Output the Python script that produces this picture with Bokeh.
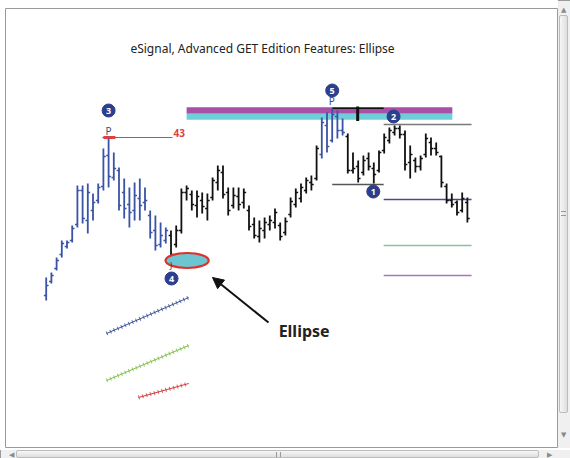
from bokeh.plotting import figure
from bokeh.models import Range1d, Arrow, NormalHead, ColumnDataSource, Div
from bokeh.layouts import row, column
from bokeh.core.properties import value
from bokeh.embed import file_html
from bokeh.resources import INLINE

# ---- price bars (bar index, high, low, open, close) ----
high = [18.3, 18.8, 20.3, 22.0, 22.0, 23.5, 27.5, 27.5, 27.7, 26.7, 27.7, 31.2, 32.2, 30.8,
        29.3, 28.2, 27.3, 27.8, 28.2, 27.3, 25.0, 24.5, 23.8, 23.3, 23.0, 23.5, 27.2, 27.5,
        27.0, 27.0, 26.8, 26.7, 28.3, 29.5, 29.5, 27.3, 27.3, 27.3, 27.2, 25.5, 24.3, 24.0,
        24.3, 24.5, 25.2, 23.8, 24.3, 26.3, 27.2, 27.7, 28.3, 28.5, 31.5, 34.3, 34.8, 35.2,
        35.0, 34.2, 32.7, 30.8, 30.0, 30.5, 30.8, 29.8, 31.0, 32.7, 33.3, 33.5, 33.5, 33.0,
        31.5, 30.3, 30.5, 32.7, 32.3, 31.8, 30.5, 27.7, 26.7, 26.0, 26.8, 26.3]
low = [16.0, 17.7, 19.0, 20.3, 21.2, 21.8, 23.3, 23.7, 22.7, 24.0, 25.7, 27.0, 27.3, 28.0,
       25.0, 24.2, 23.3, 24.0, 24.0, 25.0, 22.2, 21.0, 21.3, 21.7, 20.0, 21.3, 22.7, 26.0,
       25.0, 24.3, 24.7, 24.0, 26.0, 27.0, 26.2, 24.5, 25.2, 25.0, 25.2, 23.0, 22.2, 21.8,
       22.2, 23.0, 23.2, 22.0, 22.5, 24.3, 25.3, 25.8, 26.7, 27.0, 28.0, 30.2, 30.8, 31.8,
       32.2, 32.5, 28.7, 28.7, 27.8, 28.5, 29.0, 27.7, 28.8, 30.7, 31.7, 32.5, 32.2, 29.0,
       28.2, 28.8, 29.0, 30.3, 30.5, 30.5, 27.3, 25.7, 25.3, 24.5, 24.8, 23.8]
opens = [16.5, 17.9, 19.2, 20.6, 21.4, 22.0, 23.6, 27.0, 24.0, 25.0, 26.0, 27.4, 30.5, 28.3,
         29.0, 26.8, 25.6, 25.0, 26.2, 25.8, 24.5, 23.0, 21.6, 22.0, 22.5, 21.6, 23.0, 26.8,
         26.6, 25.5, 26.0, 25.2, 26.3, 27.8, 28.8, 26.8, 25.5, 26.4, 25.8, 25.0, 23.6, 22.4,
         23.0, 23.6, 23.8, 23.5, 22.8, 24.6, 25.6, 26.2, 27.0, 27.8, 28.2, 30.6, 33.5, 32.0,
         34.4, 33.0, 32.4, 29.0, 29.4, 28.8, 30.2, 29.2, 29.0, 31.0, 32.0, 32.8, 33.2, 32.6,
         29.8, 30.0, 29.4, 30.6, 31.8, 31.2, 30.4, 27.4, 26.0, 25.8, 25.0, 25.8]
closes = [17.5, 18.5, 20.0, 21.7, 21.8, 23.2, 27.0, 24.2, 26.8, 25.8, 27.3, 30.4, 28.4, 29.2,
          25.5, 25.2, 24.8, 26.5, 25.5, 26.0, 22.8, 21.5, 22.5, 23.0, 20.6, 23.0, 26.8, 27.2,
          25.6, 26.4, 25.4, 26.0, 28.0, 29.0, 26.6, 25.0, 26.5, 25.6, 26.8, 23.4, 22.5, 23.2,
          23.8, 24.0, 24.8, 22.4, 23.9, 25.9, 26.8, 27.3, 28.0, 27.6, 31.2, 33.8, 31.4, 34.6,
          33.0, 32.8, 29.0, 29.2, 28.2, 30.0, 29.4, 28.6, 30.8, 32.3, 33.0, 33.2, 32.6, 29.6,
          30.6, 29.4, 30.2, 32.2, 31.2, 30.8, 27.8, 26.0, 25.6, 24.8, 26.2, 24.2]
# bars drawn in blue (wave sections 3 and 5)
blue_bars = list(range(0, 24)) + list(range(53, 58))

# ---- annotation levels ----
title_text = "eSignal, Advanced GET Edition Features: Ellipse"
wave_labels = ["3", "4", "5", "2", "1"]
wave_x = [12.0, 24.1, 55.0, 66.8, 62.9]
wave_y = [35.0, 18.2, 37.0, 34.4, 26.9]
p_labels_x = [12.0, 54.9]
p_labels_y = [33.0, 36.0]
band_x = [27.0, 78.1]
band_magenta = [34.67, 35.33]
band_cyan = [34.07, 34.67]
ellipse_center = [27.1, 20.0]
ellipse_size = [8.3, 1.5]
proj_x = [64.9, 81.8]
proj_levels = [33.6, 26.1, 21.5, 18.5]
proj_colors = ["#7a7a7a", "#4b4b8c", "#86c29a", "#a878b8"]
red_level = 32.3
red_x = [10.8, 24.3]
top_level = 35.23
low_level = 27.6
wave_seg_x = [55.0, 64.9]
mini_lines = {
    "blue": ([11.6, 27.4], [12.7, 16.3], "#3a4f9a"),
    "green": ([11.6, 27.4], [8.0, 11.5], "#7dbf4a"),
    "red": ([17.75, 27.4], [6.3, 7.7], "#d03a3a"),
}

p = figure(width=558, height=448, output_backend="svg", toolbar_location=None,
           x_range=Range1d(-7.827, 98.52), y_range=Range1d(1.2, 45.2),
           min_border_left=5, min_border_top=8, min_border_right=0, min_border_bottom=0)
p.axis.visible = False
p.grid.visible = False
p.background_fill_color = "white"
p.border_fill_color = "white"
p.outline_line_color = "#9a9a9a"
p.outline_line_width = 1

# bands
p.quad(left=[band_x[0]], right=[band_x[1]], bottom=[band_magenta[0]], top=[band_magenta[1]],
       fill_color="#aa4fa8", line_color=None)
p.quad(left=[band_x[0]], right=[band_x[1]], bottom=[band_cyan[0]], top=[band_cyan[1]],
       fill_color="#6fcfd8", line_color=None)

# projection lines
for lv, c in zip(proj_levels, proj_colors):
    p.line(proj_x, [lv, lv], line_color=c, line_width=1.3)
p.line(wave_seg_x, [low_level, low_level], line_color="#555555", line_width=1.3)
p.line(wave_seg_x, [top_level, top_level], line_color="#111111", line_width=1.5)
p.line([59.9, 59.9], [33.95, 35.4], line_color="#111111", line_width=3)

# red level at wave 3
p.line(red_x, [red_level, red_level], line_color="#e04040", line_width=1.2)
p.line([11.0, 13.3], [red_level, red_level], line_color="#e04040", line_width=3)
p.text(x=[24.5], y=[32.8], text=["43"], text_color="#e04040", text_font=value("Noto Sans"),
       text_font_size="10px", text_font_style="bold", text_align="left", text_baseline="middle")

# price bars
idx = list(range(len(high)))
cols = ["#3a53a4" if i in blue_bars else "#111111" for i in idx]
src = ColumnDataSource(dict(x=idx, hi=high, lo=low, op=opens, cl=closes, c=cols,
                            xl=[i - 0.45 for i in idx], xr=[i + 0.45 for i in idx]))
p.segment(x0="x", y0="lo", x1="x", y1="hi", line_color="c", line_width=1.8, source=src)
p.segment(x0="xl", y0="op", x1="x", y1="op", line_color="c", line_width=1.3, source=src)
p.segment(x0="x", y0="cl", x1="xr", y1="cl", line_color="c", line_width=1.3, source=src)

# ellipse
p.ellipse(x=[ellipse_center[0]], y=[ellipse_center[1]], width=[ellipse_size[0]],
          height=[ellipse_size[1]], fill_color="#6cc6d2", line_color="#e0302a", line_width=2.2)
p.text(x=[24.0], y=[19.55], text=["J"], text_color="#2a2a5a", text_font=value("Noto Sans"),
       text_font_size="8px", text_align="center", text_baseline="middle")

# arrow + label
p.add_layout(Arrow(end=NormalHead(size=11, fill_color="#111111", line_color="#111111"),
                   x_start=42.75, y_start=13.8, x_end=31.98, y_end=18.3,
                   line_color="#111111", line_width=2))
p.text(x=[44.7], y=[13.0], text=["Ellipse"], text_font=value("Noto Sans"), text_font_size="16px",
       text_font_style="bold", text_color="#222222", text_align="left", text_baseline="middle")

# P labels
p.text(x=p_labels_x, y=p_labels_y, text=["P", "P"], text_color="#3b4a7a",
       text_font=value("Noto Sans"), text_font_size="10px", text_align="center",
       text_baseline="middle")

# wave circles
p.scatter(x=wave_x, y=wave_y, marker="circle", size=13, fill_color="#2c3e8c",
          line_color="#2c3e8c")
p.text(x=wave_x, y=wave_y, text=wave_labels, text_color="white", text_font=value("Noto Sans"),
       text_font_size="9px", text_font_style="bold", text_align="center",
       text_baseline="middle")

# mini hatched lines
for name, (mx, my, mc) in mini_lines.items():
    p.line(mx, my, line_color=mc, line_width=1)
    p.line(mx, my, line_color=mc, line_width=4, line_dash="1 3", line_alpha=0.8)

# title
p.text(x=[41.6], y=[41.2], text=[title_text], text_font=value("Noto Sans"),
       text_font_size="12px", text_color="#222222", text_align="center",
       text_baseline="middle")

# ---- window scrollbars (browser chrome in the screenshot) ----
arrow_css = "position:absolute;font-size:7px;color:#8a8a8a;line-height:8px;font-family:DejaVu Sans;"
vbar_html = (
    '<div style="position:relative;width:12px;height:448px;background:#f0f0f0;'
    'border-top:1px solid #9a9a9a;box-sizing:border-box;overflow:hidden">'
    f'<div style="{arrow_css}left:3px;top:5px">&#9650;</div>'
    '<div style="position:absolute;left:1px;top:14px;width:9px;height:398px;'
    'background:linear-gradient(to right,#f7f7f7,#dedede);border:1px solid #bcbcbc;border-radius:2px"></div>'
    '<div style="position:absolute;left:3px;top:210px;width:5px;height:5px;'
    'border-top:1px solid #999;border-bottom:1px solid #999"></div>'
    f'<div style="{arrow_css}left:3px;top:430px">&#9660;</div>'
    '</div>')
hbar_html = (
    '<div style="position:relative;width:570px;height:10px;background:#f0f0f0;'
    'box-sizing:border-box;overflow:hidden;border-left:1px solid #9a9a9a">'
    f'<div style="{arrow_css}left:8px;top:1px">&#9664;</div>'
    '<div style="position:absolute;left:15px;top:0px;width:523px;height:8px;'
    'background:linear-gradient(to bottom,#f7f7f7,#dedede);border:1px solid #bcbcbc;border-radius:2px"></div>'
    '<div style="position:absolute;left:275px;top:2px;width:5px;height:5px;'
    'border-left:1px solid #999;border-right:1px solid #999"></div>'
    f'<div style="{arrow_css}left:546px;top:1px">&#9654;</div>'
    '</div>')
vbar = Div(text=vbar_html, width=12, height=448, margin=0)
hbar = Div(text=hbar_html, width=570, height=10, margin=0)

layout = column(row(p, vbar, spacing=0), hbar, spacing=0)
open("out.html", "w").write(file_html(layout, INLINE))
